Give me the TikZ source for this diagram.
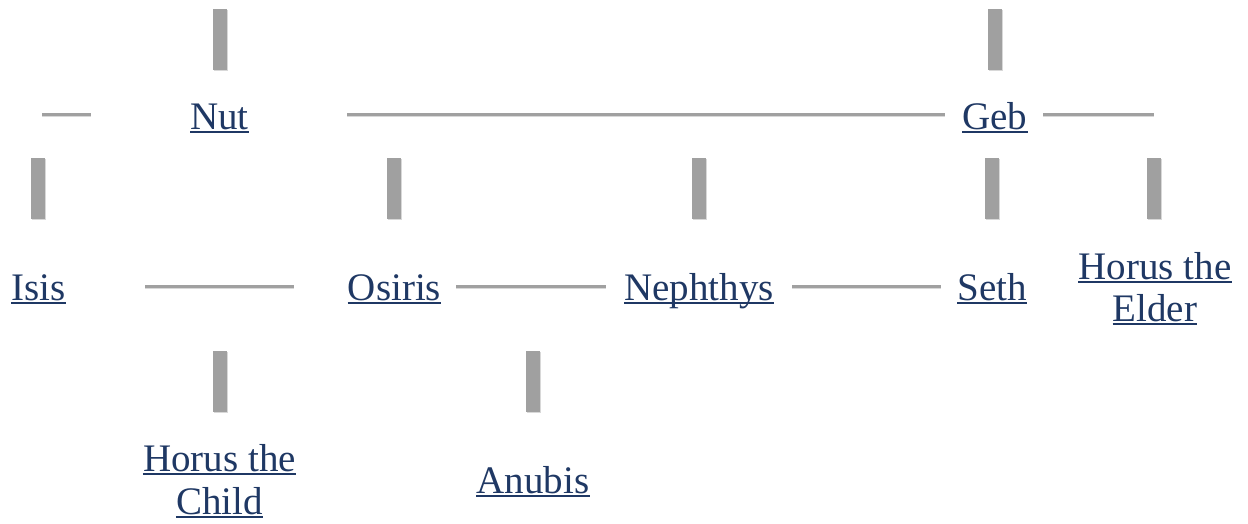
\documentclass[tikz,border=0pt]{standalone}
\usepackage{fontspec}
\setmainfont{Liberation Serif}
\usetikzlibrary{shadows}
\definecolor{linkblue}{HTML}{1F3864}
\definecolor{bargray}{HTML}{A0A0A0}
\definecolor{baredge}{HTML}{D8D8D8}
\tikzset{
  lbl/.style={inner sep=0pt, anchor=base, text=linkblue, font=\fontsize{39}{42}\selectfont},
  vbar/.style={rectangle, inner sep=0pt, minimum width=14pt, minimum height=61pt, fill=bargray,
     drop shadow={shadow xshift=1.2pt, shadow yshift=-1.2pt, fill=baredge, opacity=1}},
  hline/.style={draw=bargray, line width=3pt},
  hedge/.style={draw=baredge, line width=3pt},
  uline/.style={draw=linkblue, line width=2pt}
}
\begin{document}
\begin{tikzpicture}[x=1pt,y=-1pt]
\useasboundingbox (0,0) rectangle (1248,523);
% vertical bars
\node[vbar] (b0a) at (219.5,39.5) {};
\node[vbar] (b0b) at (995,39.5) {};
\node[vbar] (b1a) at (38,188.5) {};
\node[vbar] (b1b) at (394,188.5) {};
\node[vbar] (b1c) at (699,188.5) {};
\node[vbar] (b1d) at (992,188.5) {};
\node[vbar] (b1e) at (1154,188.5) {};
\node[vbar] (b2a) at (219.5,381.5) {};
\node[vbar] (b2b) at (533,381.5) {};
% horizontal line coordinates
\coordinate (h1a) at (42,114.5);   \coordinate (h1b) at (91,114.5);
\coordinate (h2a) at (347,114.5);  \coordinate (h2b) at (945,114.5);
\coordinate (h3a) at (1043,114.5); \coordinate (h3b) at (1154,114.5);
\coordinate (h4a) at (145,286);    \coordinate (h4b) at (294,286);
\coordinate (h5a) at (456,286);    \coordinate (h5b) at (606,286);
\coordinate (h6a) at (792,286);    \coordinate (h6b) at (941,286);
\foreach \p in {h1,h2,h3,h4,h5,h6}{
  \draw[hedge] ([yshift=-1pt]\p a) -- ([yshift=-1pt]\p b);
  \draw[hline] (\p a) -- (\p b);
}
% labels
\node[lbl] (nut) at (219.5,129) {Nut};
\node[lbl] (geb) at (995,129) {Geb};
\node[lbl] (isis) at (38.7,300) {Isis};
\node[lbl] (osiris) at (394.5,300) {Osiris};
\node[lbl] (nephthys) at (699,300) {Nephthys};
\node[lbl] (seth) at (992,300) {Seth};
\node[lbl] (hteA) at (1155,279) {Horus the};
\node[lbl] (hteB) at (1155,321) {Elder};
\node[lbl] (htcA) at (219.5,471) {Horus the};
\node[lbl] (htcB) at (219.5,514) {Child};
\node[lbl] (anubis) at (533,493) {Anubis};
\foreach \n in {nut,geb,isis,osiris,nephthys,seth,hteA,hteB,htcA,htcB,anubis}{
  \draw[uline] ([yshift=-3pt]\n.base west) -- ([yshift=-3pt]\n.base east);
}
\end{tikzpicture}
\end{document}
